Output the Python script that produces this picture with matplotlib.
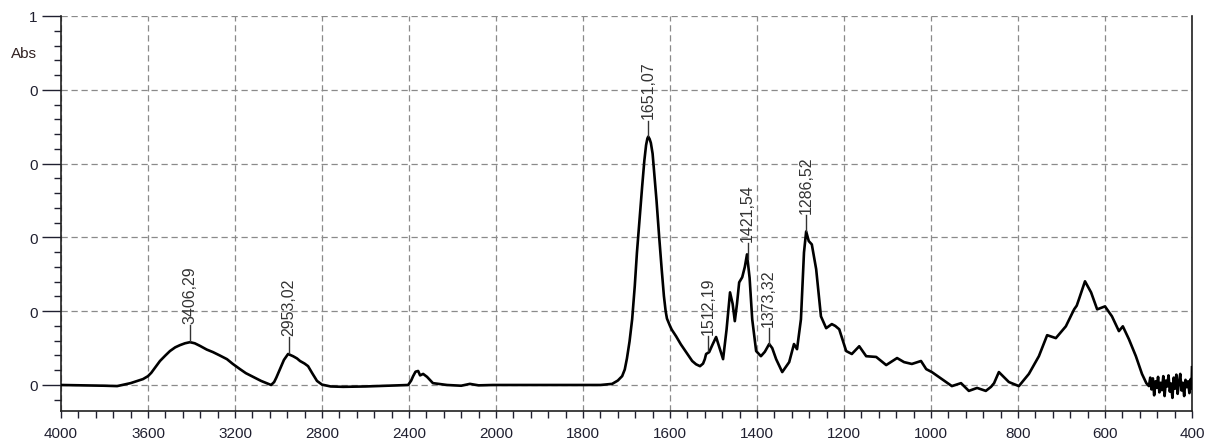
import numpy as np
import matplotlib
matplotlib.use('Agg')
import matplotlib.pyplot as plt
from matplotlib.ticker import FixedLocator, FixedFormatter

plt.rcParams['font.family'] = ['Liberation Sans', 'DejaVu Sans']

# spectrum (wavenumber, absorbance)
wavenumber = [
    4000, 3900, 3800, 3742, 3680, 3623, 3600, 3585, 3570, 3545, 3520, 3499, 3475, 3453, 3430,
    3407, 3385, 3361, 3330, 3301, 3270, 3237, 3210, 3177, 3150, 3117, 3080, 3034, 3020, 3010,
    2993, 2975, 2956, 2940, 2933, 2915, 2901, 2880, 2864, 2845, 2823, 2800, 2760, 2703,
    2600, 2547, 2450, 2404, 2390, 2381, 2370, 2358, 2349, 2335, 2317, 2290, 2225, 2160,
    2120, 2080, 2014, 1931, 1802, 1760, 1733, 1720, 1710, 1704, 1699, 1693, 1687, 1681, 1676,
    1670, 1664, 1659, 1655, 1652, 1650, 1647, 1644, 1640, 1637, 1631, 1625, 1619, 1614, 1610,
    1607, 1600, 1596, 1586, 1575, 1563, 1549, 1540, 1531, 1524, 1520, 1517, 1510,
    1502, 1494, 1486, 1478, 1470, 1462, 1456, 1451, 1446, 1441, 1434, 1428, 1423, 1417,
    1411, 1402, 1391, 1382, 1372, 1365, 1356, 1342, 1326, 1315, 1308, 1299, 1292, 1287,
    1281, 1274, 1264, 1253, 1241, 1228, 1220, 1211, 1195, 1182, 1165, 1149, 1126, 1103,
    1078, 1062, 1044, 1023, 1011, 998, 975, 952, 931, 913, 894, 874, 862, 855, 844, 821,
    798, 775, 752, 733, 713, 690, 671, 665, 660, 646, 632, 618, 600, 584, 568, 559, 545,
    529, 515, 505, 499, 496, 493, 490, 487, 484, 481, 478, 475, 472, 469, 466, 463, 460,
    457, 454, 451, 448, 445, 442, 439, 436, 433, 430, 427, 424, 421, 418, 415, 412, 409,
    406, 403, 401, 400,
]
absorbance = [
    0.000, -0.001, -0.002, -0.003, 0.005, 0.016, 0.024, 0.033, 0.045, 0.065, 0.080, 0.092, 0.102, 0.108, 0.113,
    0.116, 0.113, 0.106, 0.096, 0.089, 0.080, 0.070, 0.057, 0.043, 0.032, 0.022, 0.011, 0.000, 0.008, 0.020,
    0.043, 0.068, 0.084, 0.080, 0.078, 0.072, 0.065, 0.058, 0.051, 0.032, 0.011, 0.001, -0.004, -0.005,
    -0.004, -0.003, -0.001, 0.000, 0.012, 0.024, 0.036, 0.038, 0.026, 0.030, 0.022, 0.005, 0.000, -0.002,
    0.003, -0.001, 0.000, 0.000, 0.000, 0.000, 0.003, 0.012, 0.024, 0.042, 0.072, 0.118, 0.178, 0.268, 0.359,
    0.450, 0.538, 0.608, 0.650, 0.668, 0.673, 0.667, 0.656, 0.627, 0.584, 0.500, 0.403, 0.312, 0.241, 0.200,
    0.180, 0.160, 0.150, 0.132, 0.110, 0.089, 0.065, 0.056, 0.051, 0.058, 0.070, 0.084, 0.089,
    0.110, 0.130, 0.100, 0.070, 0.150, 0.251, 0.220, 0.173, 0.220, 0.278, 0.292, 0.320, 0.354, 0.290,
    0.178, 0.092, 0.078, 0.090, 0.111, 0.100, 0.070, 0.035, 0.062, 0.111, 0.097, 0.178, 0.359, 0.416,
    0.390, 0.381, 0.314, 0.186, 0.154, 0.165, 0.160, 0.151, 0.092, 0.084, 0.105, 0.078, 0.076, 0.054,
    0.073, 0.062, 0.057, 0.065, 0.043, 0.035, 0.016, -0.003, 0.005, -0.016, -0.008, -0.016, -0.005, 0.005, 0.035, 0.008,
    -0.003, 0.030, 0.078, 0.135, 0.127, 0.159, 0.205, 0.215, 0.232, 0.281, 0.251, 0.205, 0.213, 0.186, 0.146, 0.159, 0.124,
    0.078, 0.030, 0.005, -0.003, 0.020, -0.012, 0.018, -0.028, 0.010, -0.008, 0.022, -0.020, 0.006, -0.014, 0.024, -0.030, 0.012,
    -0.004, 0.026, -0.018, 0.004, -0.035, 0.020, -0.010, 0.028, -0.024, 0.008, 0.030, -0.015, 0.006, -0.030, 0.014, -0.006, 0.010,
    -0.022, 0.016, -0.010, 0.048,
]

peak_pos = [3406.29, 2953.02, 1651.07, 1512.19, 1421.54, 1373.32, 1286.52]
peak_labels = ['3406,29', '2953,02', '1651,07', '1512,19', '1421,54', '1373,32', '1286,52']

x_major = [4000, 3600, 3200, 2800, 2400, 2000, 1800, 1600, 1400, 1200, 1000, 800, 600, 400]
y_major = [0.0, 0.2, 0.4, 0.6, 0.8, 1.0]
y_labels = ['0', '0', '0', '0', '0', '1']


# spectrometer style axis: half scale above 2000 cm-1
def fwd(x):
    x = np.asarray(x, dtype=float)
    return np.where(x <= 2000, x, 2000 + (x - 2000) / 2)


def inv(u):
    u = np.asarray(u, dtype=float)
    return np.where(u <= 2000, u, 2000 + 2 * (u - 2000))


fig = plt.figure(figsize=(12.15, 4.39), dpi=100)
ax = fig.add_axes([61 / 1215, 1 - 412 / 439, (1192 - 61) / 1215, (412 - 17) / 439])
ax.set_xscale('function', functions=(fwd, inv))
ax.set_xlim(4000, 400)
ax.set_ylim(-0.0705, 1.0)

ax.plot(wavenumber, absorbance, color='black', lw=1.9, solid_joinstyle='round', zorder=3)

wn_arr = np.array(wavenumber)[::-1]
ab_arr = np.array(absorbance)[::-1]
for pos, lab in zip(peak_pos, peak_labels):
    yp = np.interp(pos, wn_arr, ab_arr)
    ax.plot([pos, pos], [yp + 0.004, yp + 0.046], color='#333333', lw=1, zorder=4)
    ax.text(pos, yp + 0.052, lab, rotation=90, ha='center', va='bottom',
            fontsize=11.5, color='#333333', zorder=4)

ax.xaxis.set_major_locator(FixedLocator(x_major))
ax.xaxis.set_major_formatter(FixedFormatter([str(v) for v in x_major]))
x_minor = list(range(4000, 2000, -80)) + list(range(2000, 399, -40))
ax.xaxis.set_minor_locator(FixedLocator(x_minor))
ax.yaxis.set_major_locator(FixedLocator(y_major))
ax.yaxis.set_major_formatter(FixedFormatter(y_labels))
ax.yaxis.set_minor_locator(FixedLocator(np.arange(-0.04, 1.0, 0.04)))

ax.tick_params(axis='x', which='major', direction='out', length=5, width=1, labelsize=11,
               colors='#202030', pad=6)
ax.tick_params(axis='x', which='minor', direction='out', length=5, width=1, colors='#202030')
ax.tick_params(axis='y', which='major', direction='out', length=14, width=1, labelsize=11,
               colors='#202030', pad=3)
ax.tick_params(axis='y', which='minor', direction='out', length=5, width=1, colors='#202030')

ax.grid(True, which='major', color='#8a8a8a', lw=0.9, linestyle=(0, (5, 3)))
ax.spines['top'].set_visible(False)
for side in ['left', 'bottom', 'right']:
    ax.spines[side].set_color('#202020')
    ax.spines[side].set_linewidth(1.2)

fig.text(24 / 1215, 1 - 54 / 439, 'Abs', ha='center', va='center', fontsize=11, color='#302020')

fig.savefig('out.png', dpi=100)
